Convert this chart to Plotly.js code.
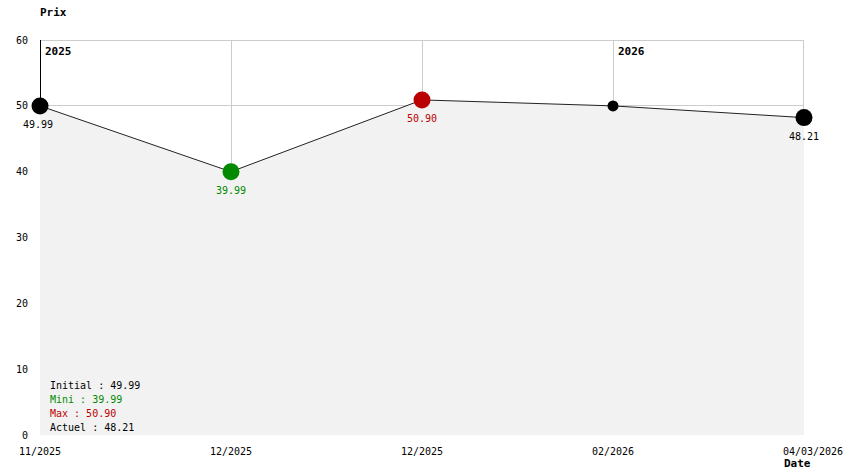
<!DOCTYPE html>
<html>
<head>
<meta charset="utf-8">
<script src="https://cdn.plot.ly/plotly-3.0.1.min.js"></script>
<style>
html,body{margin:0;padding:0;background:#fff;}
#chart{width:844px;height:474px;}
</style>
</head>
<body>
<div id="chart"></div>
<script>
// ---- data ----
const dates = ['11/2025', '12/2025', '12/2025', '02/2026', '04/03/2026'];
const prices = [49.99, 39.99, 50.90, 49.99, 48.21];
const yTicks = [0, 10, 20, 30, 40, 50, 60];
const summaryLabels = ['Initial', 'Mini', 'Max', 'Actuel'];
const axisTitleY = 'Prix';
const axisTitleX = 'Date';

// ---- styling ----
const MONO = '"DejaVu Sans Mono", "Liberation Mono", monospace';
const GREEN = '#008a00';
const RED = '#bb0000';
const BLACK = '#000000';

const W = 844, H = 474;
const M = {l: 40, r: 40, t: 40, b: 39};
const PW = W - M.l - M.r, PH = H - M.t - M.b;
const px2x = p => (p - M.l) / PW;
const py2y = p => (H - M.b - p) / PH;

const xs = dates.map((d, i) => i);
const lastI = prices.length - 1;
const Y_MAX = yTicks[yTicks.length - 1];
const halfPxX = 0.5 * lastI / PW;
const halfPxY = 0.5 * Y_MAX / PH;

let minI = 0, maxI = 0;
prices.forEach((v, i) => { if (v < prices[minI]) minI = i; if (v > prices[maxI]) maxI = i; });

const colors = prices.map((v, i) => i === minI ? GREEN : (i === maxI ? RED : BLACK));
const big = prices.map((v, i) => i === 0 || i === lastI || i === minI || i === maxI);
const sizes = big.map(b => b ? 17 : 11);

const fillTrace = {
  x: xs, y: prices, type: 'scatter', mode: 'lines',
  fill: 'tozeroy', fillcolor: '#f2f2f2',
  line: {color: '#222', width: 1},
  hoverinfo: 'skip', showlegend: false
};
const markTrace = {
  x: xs, y: prices, type: 'scatter', mode: 'markers',
  marker: {color: colors, size: sizes, opacity: 1, line: {width: 0}},
  cliponaxis: false, showlegend: false
};

const shapes = [], annotations = [];

// border lines (top and right) that plotly omits at range ends
shapes.push({type: 'line', layer: 'below', xref: 'x', yref: 'y',
  x0: 0, x1: lastI, y0: Y_MAX - halfPxY, y1: Y_MAX - halfPxY, line: {color: '#cccccc', width: 1}});
shapes.push({type: 'line', layer: 'below', xref: 'x', yref: 'y',
  x0: lastI - halfPxX, x1: lastI - halfPxX, y0: 0, y1: Y_MAX, line: {color: '#cccccc', width: 1}});

// year markers
const yearOf = d => d.slice(-4);
dates.forEach((d, i) => {
  if (i === 0 || yearOf(d) !== yearOf(dates[i - 1])) {
    shapes.push({
      type: 'line', layer: 'below', xref: 'x', yref: 'y',
      x0: i + halfPxX, x1: i + halfPxX, y0: 0, y1: Y_MAX,
      line: {color: i === 0 ? '#000' : '#999', width: 1}
    });
    annotations.push({
      xref: 'x', yref: 'y', x: i, y: Y_MAX, xanchor: 'left', yanchor: 'middle',
      xshift: 3, yshift: -11, showarrow: false, text: '<b>' + yearOf(d) + '</b>',
      font: {family: MONO, size: 11, color: '#000'}
    });
  }
});

// point value labels
prices.forEach((v, i) => {
  if (!big[i]) return;
  annotations.push({
    xref: 'x', yref: 'y', x: i, y: v, xanchor: 'center', yanchor: 'middle',
    yshift: -19, xshift: i === 0 ? -2 : 0, showarrow: false, text: v.toFixed(2),
    font: {family: MONO, size: 10, color: colors[i]}
  });
});

// summary block
const summaryVals = [prices[0], prices[minI], prices[maxI], prices[lastI]];
const summaryCols = [BLACK, GREEN, RED, BLACK];
summaryLabels.forEach((lab, k) => {
  annotations.push({
    xref: 'paper', yref: 'paper', x: px2x(48), y: py2y(385 + 14 * k),
    xanchor: 'left', yanchor: 'middle', showarrow: false,
    text: lab + ' : ' + summaryVals[k].toFixed(2),
    font: {family: MONO, size: 10, color: summaryCols[k]}
  });
});

annotations.push({
  xref: 'paper', yref: 'paper', x: px2x(38), y: py2y(12), xanchor: 'left', yanchor: 'middle',
  showarrow: false, text: '<b>' + axisTitleY + '</b>', font: {family: MONO, size: 11, color: '#000'}
});
annotations.push({
  xref: 'paper', yref: 'paper', x: px2x(782), y: py2y(463), xanchor: 'left', yanchor: 'middle',
  showarrow: false, text: '<b>' + axisTitleX + '</b>', font: {family: MONO, size: 11, color: '#000'}
});

const tickText = dates.map((d, i) => i === lastI ? '\u00a0\u00a0\u00a0' + d : d);

const layout = {
  width: W, height: H,
  margin: M,
  paper_bgcolor: '#fff', plot_bgcolor: '#fff',
  showlegend: false,
  xaxis: {
    range: [0, lastI], tickvals: xs, ticktext: tickText,
    showgrid: true, gridcolor: '#cccccc', gridwidth: 1,
    zeroline: false, showline: false,
    ticks: 'outside', ticklen: 7, tickcolor: 'rgba(0,0,0,0)',
    ticklabeloverflow: 'allow',
    tickfont: {family: MONO, size: 10, color: '#000'}, fixedrange: true
  },
  yaxis: {
    range: [0, Y_MAX], tickvals: yTicks,
    showgrid: true, gridcolor: '#cccccc', gridwidth: 1,
    zeroline: false, showline: false,
    ticks: 'outside', ticklen: 9, tickcolor: 'rgba(0,0,0,0)',
    tickfont: {family: MONO, size: 10, color: '#000'}, fixedrange: true
  },
  shapes: shapes,
  annotations: annotations
};

Plotly.newPlot('chart', [fillTrace, markTrace], layout, {displayModeBar: false, staticPlot: true});
</script>
</body>
</html>
